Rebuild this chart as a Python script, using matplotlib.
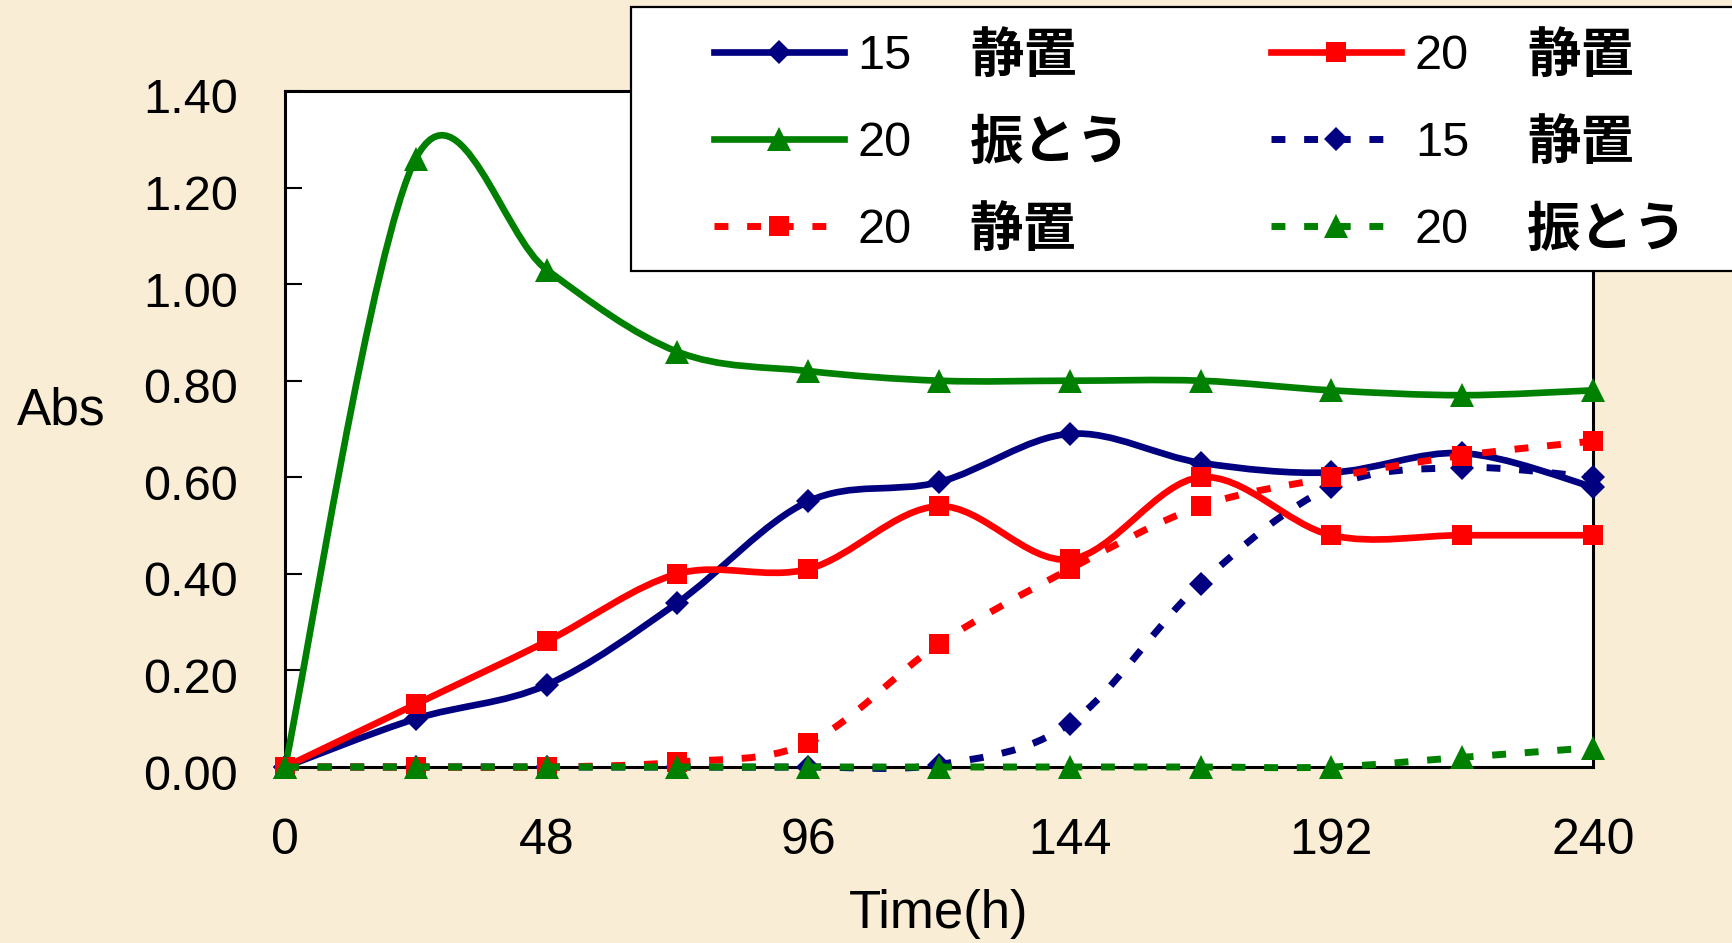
import matplotlib
matplotlib.use("Agg")
import matplotlib.pyplot as plt
from matplotlib.path import Path
from matplotlib.patches import PathPatch, Rectangle
from matplotlib.lines import Line2D
from matplotlib.transforms import ScaledTranslation

# ---- data -------------------------------------------------------------
hours = [0, 24, 48, 72, 96, 120, 144, 168, 192, 216, 240]

abs_15_static = [0.00, 0.10, 0.17, 0.34, 0.55, 0.59, 0.69, 0.63, 0.61, 0.65, 0.58]
abs_20_static = [0.00, 0.13, 0.26, 0.40, 0.41, 0.54, 0.43, 0.60, 0.48, 0.48, 0.48]
abs_20_shake = [0.00, 1.26, 1.03, 0.86, 0.82, 0.80, 0.80, 0.80, 0.78, 0.77, 0.78]
abs_15_static_b = [0.00, 0.00, 0.00, 0.00, 0.00, 0.005, 0.09, 0.38, 0.58, 0.62, 0.60]
abs_20_static_b = [0.00, 0.00, 0.00, 0.01, 0.05, 0.255, 0.41, 0.54, 0.60, 0.645, 0.675]
abs_20_shake_b = [0.00, 0.00, 0.00, 0.00, 0.00, 0.00, 0.00, 0.00, 0.00, 0.02, 0.04]

temps = ["15", "20", "20", "15", "20", "20"]
conditions = ["静置", "静置", "振とう", "静置", "静置", "振とう"]

x_ticks = [0, 48, 96, 144, 192, 240]
y_ticks = [0.0, 0.2, 0.4, 0.6, 0.8, 1.0, 1.2, 1.4]

# ---- style ------------------------------------------------------------
NAVY, RED, GREEN = "#000080", "#FF0000", "#008000"
LATIN = "Liberation Sans"
CJK = "Noto Sans CJK JP"
FS = 35
BG = "#F9EDD6"

plt.rcParams["font.family"] = [LATIN, "DejaVu Sans"]

W, H = 1733, 943
fig = plt.figure(figsize=(W / 100, H / 100), dpi=100, facecolor=BG)
ax = fig.add_axes([285 / W, 1 - 767 / H, (1593 - 285) / W, (767 - 91) / H])
ax.set_facecolor("white")


def smooth_path(xs, ys):
    """Cubic Bezier path through the points (Catmull-Rom style tangents)."""
    pts = list(zip(xs, ys))
    n = len(pts)
    verts = [pts[0]]
    codes = [Path.MOVETO]
    for i in range(n - 1):
        p0 = pts[i - 1] if i > 0 else pts[i]
        p1 = pts[i]
        p2 = pts[i + 1]
        p3 = pts[i + 2] if i + 2 < n else pts[i + 1]
        c1 = (p1[0] + (p2[0] - p0[0]) / 6, p1[1] + (p2[1] - p0[1]) / 6)
        c2 = (p2[0] - (p3[0] - p1[0]) / 6, p2[1] - (p3[1] - p1[1]) / 6)
        verts += [c1, c2, p2]
        codes += [Path.CURVE4] * 3
    return Path(verts, codes)


SOLID_LW = 4.8
DOT_LW = 5.0
DOT_STYLE = (0, (2.0, 2.7))

series = [
    (abs_15_static, NAVY, "-", "D", 12.5),
    (abs_20_static, RED, "-", "s", 14.5),
    (abs_20_shake, GREEN, "-", "^", 17),
    (abs_15_static_b, NAVY, DOT_STYLE, "D", 12.5),
    (abs_20_static_b, RED, DOT_STYLE, "s", 14.5),
    (abs_20_shake_b, GREEN, DOT_STYLE, "^", 17),
]

handles = []
for k, (vals, col, ls, mk, ms) in enumerate(series):
    lw = SOLID_LW if ls == "-" else DOT_LW
    patch = PathPatch(smooth_path(hours, vals), facecolor="none", edgecolor=col,
                      lw=lw, linestyle=ls, capstyle="butt", joinstyle="round",
                      zorder=3 + k * 0.1, clip_on=False)
    ax.add_patch(patch)
    ax.plot(hours, vals, linestyle="none", marker=mk, ms=ms, color=col,
            markeredgewidth=0, zorder=3.05 + k * 0.1, clip_on=False)
    handles.append(Line2D([], [], color=col, lw=lw, linestyle=ls, marker=mk,
                          ms=ms, markeredgewidth=0, dash_capstyle="butt"))

ax.set_xlim(0, 240)
ax.set_ylim(0, 1.4)
ax.set_xticks(x_ticks)
ax.set_xticklabels([str(t) for t in x_ticks])
ax.set_yticks(y_ticks)
ax.set_yticklabels([f"{v:.2f}" for v in y_ticks])
ax.tick_params(axis="y", direction="in", length=12, width=1.5, pad=34,
               labelsize=FS)
ax.tick_params(axis="x", length=0, pad=37, labelsize=36)
# y tick labels sit slightly below their ticks
shift = ScaledTranslation(0, -5 / 100, fig.dpi_scale_trans)
for lab in ax.get_yticklabels():
    lab.set_transform(lab.get_transform() + shift)
for s in ax.spines.values():
    s.set_linewidth(2.2)
    s.set_zorder(2.5)

ax.set_xlabel("Time(h)", fontsize=38, labelpad=18)
ax.set_ylabel("Abs", fontsize=37, rotation=0, ha="left", va="center")
ax.yaxis.set_label_coords((17 - 285) / (1593 - 285), (767 - 411) / (767 - 91))

# ---- legend -----------------------------------------------------------
frame = Rectangle((631 / W, 1 - 271 / H), 1.0, (271 - 7) / H,
                  transform=fig.transFigure, facecolor="white",
                  edgecolor="black", lw=1.6, zorder=5)
fig.add_artist(frame)

order = [0, 2, 4, 1, 3, 5]  # column-major placement of a 3x2 grid
leg = fig.legend([handles[i] for i in order], [temps[i] for i in order],
                 loc="upper left", bbox_to_anchor=(714 / W, 1 - 34 / H),
                 bbox_transform=fig.transFigure, ncols=2, frameon=False,
                 fontsize=FS, borderpad=0, borderaxespad=0,
                 handlelength=2.67, handletextpad=0.28, columnspacing=7.4,
                 labelspacing=0.86)
leg.set_zorder(6)

for txt, i in zip(leg.get_texts(), order):
    fig.add_artist(plt.Annotation(
        conditions[i], xy=(1, 0.5), xycoords=txt, xytext=(42, 0),
        textcoords="offset points", ha="left", va="center",
        fontsize=38.5, fontweight="bold", family=[CJK, "DejaVu Sans"],
        zorder=7))

fig.savefig("out.png", dpi=100, facecolor=BG)
